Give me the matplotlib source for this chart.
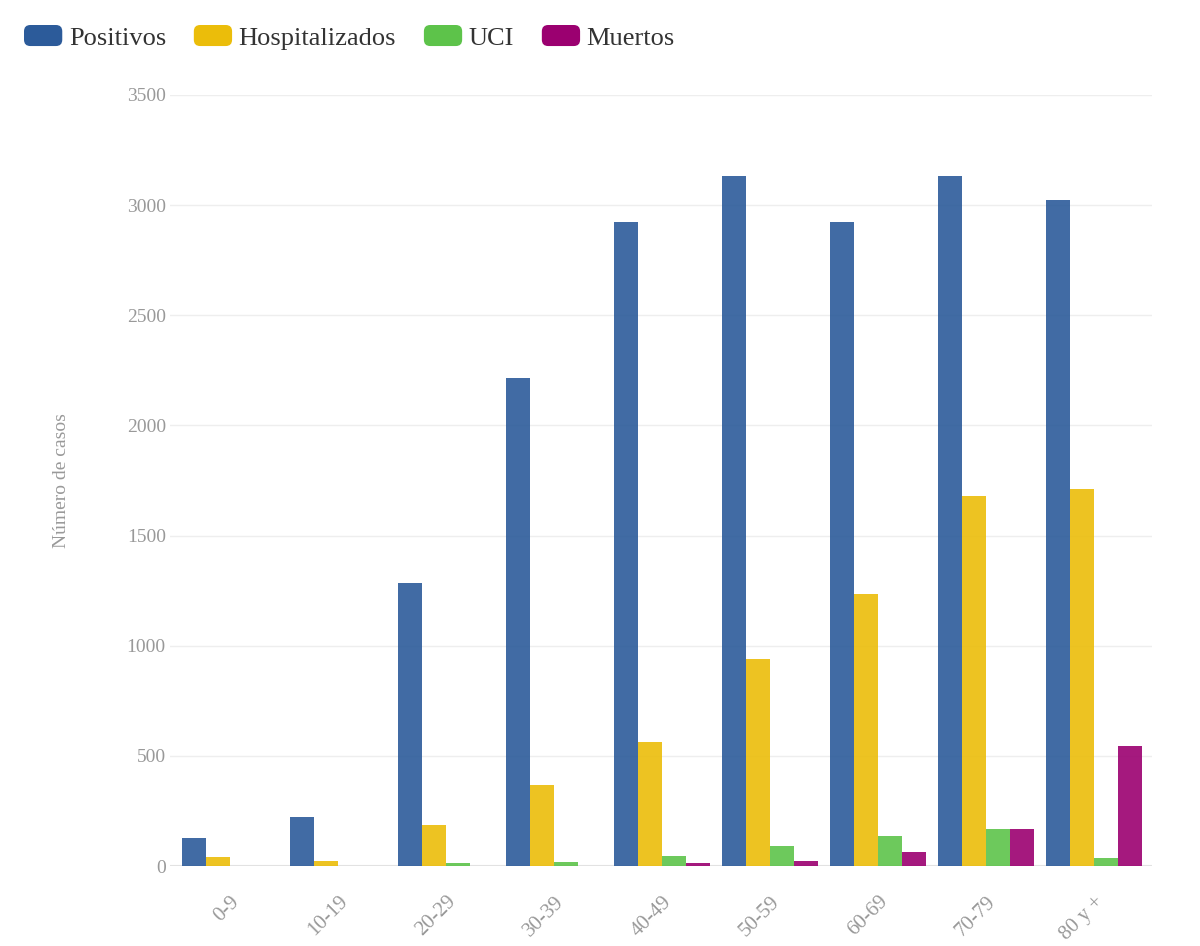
import numpy as np
import matplotlib.pyplot as plt
from matplotlib.patches import Patch, FancyBboxPatch
from matplotlib.legend_handler import HandlerPatch

# Age groups and case counts
grupos = ['0-9', '10-19', '20-29', '30-39', '40-49', '50-59', '60-69', '70-79', '80 y +']
positivos = [127, 222, 1285, 2215, 2924, 3133, 2924, 3133, 3024]
hospitalizados = [41, 23, 186, 368, 563, 940, 1235, 1680, 1712]
uci = [0, 2, 12, 19, 45, 91, 136, 168, 38]
muertos = [0, 0, 0, 0, 12, 23, 64, 168, 545]

series = ['Positivos', 'Hospitalizados', 'UCI', 'Muertos']
colores = ['#2c5b9a', '#ebbd0a', '#5dc34a', '#9b0070']


#Legend handle drawn as a rounded box
class HandlerRound(HandlerPatch):
    def create_artists(self, legend, orig_handle, xdescent, ydescent,
                       width, height, fontsize, trans):
        p = FancyBboxPatch((-xdescent, -ydescent), width, height,
                           boxstyle='round,pad=0,rounding_size=%f' % (height * 0.3),
                           facecolor=orig_handle.get_facecolor(), edgecolor='none',
                           transform=trans)
        return [p]


def main():
    plt.rcParams['font.family'] = ['Liberation Serif', 'DejaVu Serif']

    fig = plt.figure(figsize=(12, 9.46), dpi=100)
    ax = fig.add_axes([170 / 1200, 1 - 866 / 946, 982 / 1200, 771 / 946])

    x = np.arange(len(grupos))
    ancho = 0.222
    datos = [positivos, hospitalizados, uci, muertos]
    for i, vals in enumerate(datos):
        ax.bar(x + (i - 1.5) * ancho, vals, width=ancho, color=colores[i],
               alpha=0.9, linewidth=0, zorder=3)

    ax.set_ylim(0, 3500)
    ax.set_xlim(-0.556, 8.537)
    ax.set_yticks(np.arange(0, 3501, 500))
    ax.set_yticklabels([str(v) for v in range(0, 3501, 500)])
    ax.grid(axis='y', color='#eeeeee', linewidth=1, zorder=0)
    ax.axhline(0, color='#e2e2e2', linewidth=1.5, zorder=2)
    for s in ax.spines.values():
        s.set_visible(False)
    ax.tick_params(axis='both', length=0, colors='#999999', labelsize=14)
    ax.tick_params(axis='y', pad=3)

    ax.set_xticks(x)
    ax.set_xticklabels(grupos, rotation=45, ha='right', va='top',
                       rotation_mode='anchor', fontsize=15)
    ax.tick_params(axis='x', pad=19)

    ax.set_ylabel('Número de casos', color='#999999', fontsize=14, labelpad=41)

    handles = [Patch(facecolor=c, edgecolor='none', label=s) for c, s in zip(colores, series)]
    fig.legend(handles=handles, loc='upper left', bbox_to_anchor=(24 / 1200, 1 - 25 / 946),
               ncol=4, frameon=False, fontsize=19, handlelength=1.45, handleheight=0.85,
               handletextpad=0.25, columnspacing=1.05, borderpad=0, borderaxespad=0,
               labelcolor='#333333', handler_map={Patch: HandlerRound()})

    fig.savefig('out.png', dpi=100)


if __name__ == '__main__':
    main()
